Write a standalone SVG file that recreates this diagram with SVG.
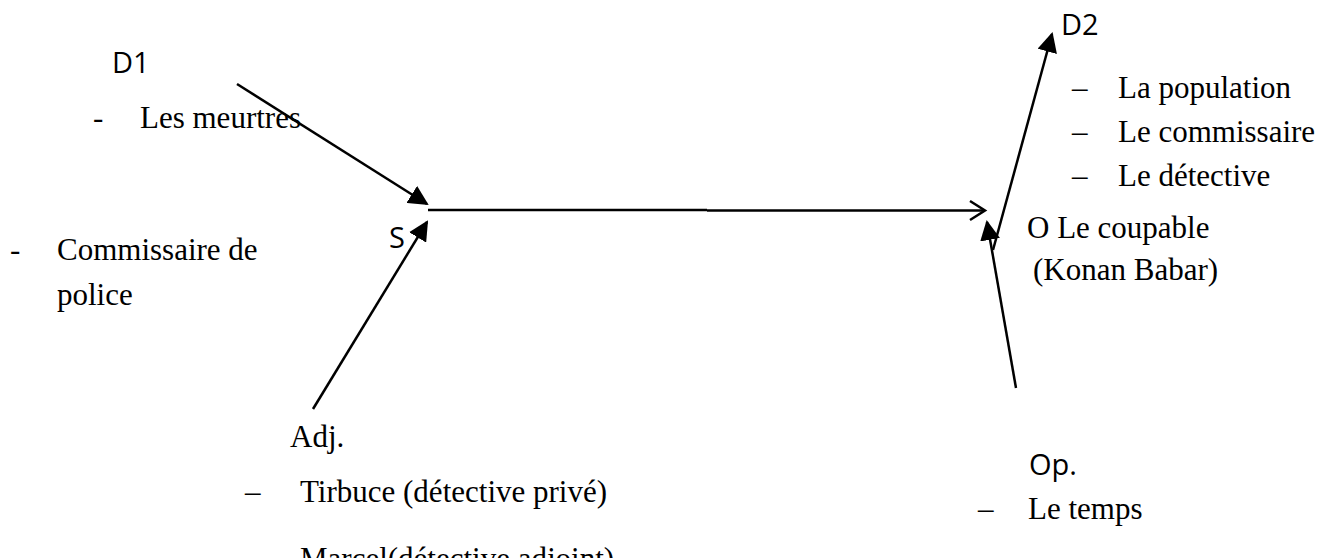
<svg xmlns="http://www.w3.org/2000/svg" width="1338" height="558" viewBox="0 0 1338 558">
<style>
.t{font-family:"Liberation Serif","Times New Roman",serif;font-size:31px;fill:#000}
.s{font-family:"Open Sans","Liberation Sans",sans-serif;font-size:29px;fill:#000}
.ln{stroke:#000;stroke-width:2.5;fill:none}
</style>
<defs>
<marker id="fa" viewBox="0 0 10 10" refX="9" refY="5" markerWidth="8" markerHeight="8" markerUnits="strokeWidth" orient="auto">
<path d="M0,0 L10,5 L0,10 z" fill="#000"/>
</marker>
</defs>
<rect width="1338" height="558" fill="#fff"/>
<g id="connectors">
<line class="ln" x1="237" y1="84" x2="427" y2="204" marker-end="url(#fa)"/>
<line class="ln" x1="313" y1="409" x2="427" y2="222" marker-end="url(#fa)"/>
<line class="ln" x1="428" y1="210" x2="707" y2="210"/>
<line class="ln" x1="707" y1="210.5" x2="985" y2="210.5"/>
<polyline class="ln" points="970,201 985,210.5 970,220"/>
<line class="ln" x1="993" y1="250" x2="1052" y2="34" marker-end="url(#fa)"/>
<line class="ln" x1="1016" y1="388" x2="987" y2="222" marker-end="url(#fa)"/>
</g>
<g id="D1">
<text class="s" x="112" y="73">D1</text>
<text class="t" x="93" y="128">-</text>
<text class="t" x="140" y="128">Les meurtres</text>
</g>
<g id="S">
<text class="s" x="389" y="248">S</text>
<text class="t" x="10" y="260">-</text>
<text class="t" x="57" y="260">Commissaire de</text>
<text class="t" x="57" y="305">police</text>
</g>
<g id="Adj">
<text class="t" x="290" y="447">Adj.</text>
<text class="t" x="245" y="502">–</text>
<text class="t" x="300" y="502">Tirbuce (détective privé)</text>
<text class="t" x="245" y="569">–</text>
<text class="t" x="300" y="569">Marcel(détective adjoint)</text>
</g>
<g id="D2">
<text class="s" x="1061" y="35">D2</text>
<text class="t" x="1072" y="98">–</text>
<text class="t" x="1118" y="98">La population</text>
<text class="t" x="1072" y="142">–</text>
<text class="t" x="1118" y="142">Le commissaire</text>
<text class="t" x="1072" y="186">–</text>
<text class="t" x="1118" y="186">Le détective</text>
</g>
<g id="O">
<text class="t" x="1027" y="238">O Le coupable</text>
<text class="t" x="1033" y="280"> (Konan Babar)</text>
</g>
<g id="Op">
<text class="s" x="1029" y="475">Op.</text>
<text class="t" x="978" y="519">–</text>
<text class="t" x="1028" y="519">Le temps</text>
</g>
</svg>
